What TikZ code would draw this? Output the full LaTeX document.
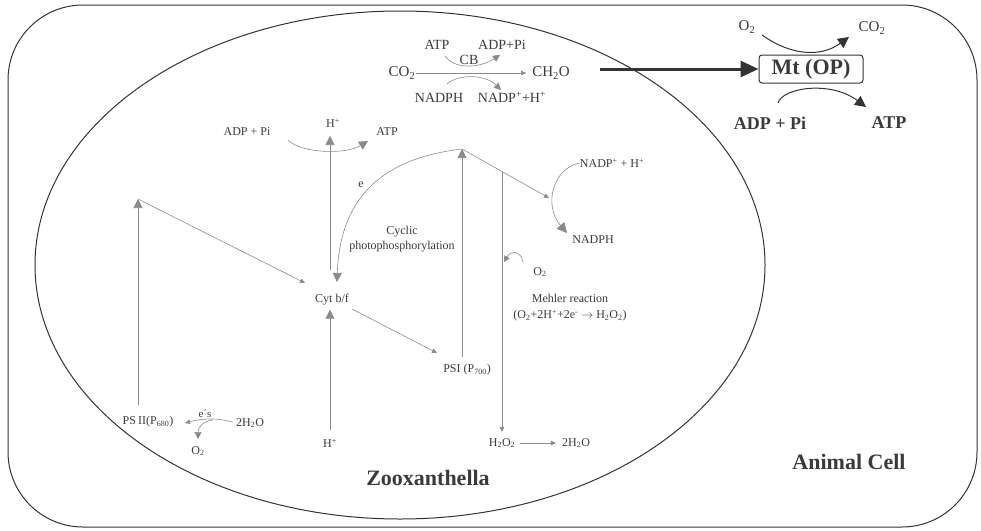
\documentclass[tikz,border=0pt]{standalone}
\usepackage{fontspec}
\setmainfont{Liberation Serif}
\usetikzlibrary{arrows.meta}
\definecolor{ink}{HTML}{333333}
\definecolor{lgray}{HTML}{8A8A8A}
\definecolor{txt}{HTML}{3A3A3A}
\begin{document}
\begin{tikzpicture}[x=1pt,y=-1pt,
  lbl/.style={text=txt, inner sep=0pt, font=\fontsize{12}{15}\selectfont},
  lblm/.style={text=txt, inner sep=0pt, font=\fontsize{14}{16}\selectfont},
  lblr/.style={text=txt, inner sep=0pt, font=\fontsize{15}{17}\selectfont},
  lblb/.style={text=txt, inner sep=0pt, font=\fontsize{18}{20}\selectfont\bfseries},
  title/.style={text=txt, inner sep=0pt, font=\fontsize{22}{24}\selectfont\bfseries},
  thinln/.style={draw=lgray, line width=0.6pt},
  darkln/.style={draw=ink, line width=1pt},
  bigtip/.style={-{Triangle[length=9pt,width=9pt]}},
  midtip/.style={-{Triangle[length=7pt,width=7pt]}},
  smalltip/.style={-{Triangle[length=5pt,width=4.5pt]}},
  mtbox/.style={draw=ink, line width=1pt, rounded corners=3pt, minimum width=104pt,
    minimum height=28pt, inner sep=0pt, text=txt, font=\fontsize{22}{24}\selectfont\bfseries},
]
\useasboundingbox (0,0) rectangle (981,530);
% cells
\draw[darkln, rounded corners=75pt] (8,5) rectangle (977,527);
\draw[darkln] (400,265) ellipse [x radius=365pt, y radius=254pt];

% Calvin-Benson reaction
\node[lblm] (atpCB) at (437,45) {ATP};
\node[lblm] (adpCB) at (502,45) {ADP+Pi};
\node[lblm] (cb) at (469,60) {CB};
\node[lblr] (co2) at (402,73) {CO\textsubscript{2}};
\node[lblr] (ch2o) at (551,73) {CH\textsubscript{2}O};
\node[lblm] (nadphCB) at (439,98) {NADPH};
\node[lblm] (nadpCB) at (512,97) {NADP\textsuperscript{+}+H\textsuperscript{+}};
\draw[thinln, smalltip, shorten >=6pt] (co2.east) -- (ch2o.west);
\coordinate (cbA1) at (445,56);
\coordinate (cbA2) at (500,55);
\draw[thinln, midtip] (cbA1) .. controls (455,70) and (480,68) .. (cbA2);
\coordinate (cbB1) at (447,84);
\coordinate (cbB2) at (501,90);
\draw[thinln, midtip] (cbB1) .. controls (458,74) and (485,74) .. (cbB2);

% mitochondrion
\node[mtbox] (mt) at (811,69) {Mt (OP)};
\node[lblr] (o2R) at (747,27) {O\textsubscript{2}};
\node[lblr] (co2R) at (872,28) {CO\textsubscript{2}};
\node[lblb] (adpR) at (770,123) {ADP + Pi};
\node[lblb] (atpR) at (889,123) {ATP};
\coordinate (thickStart) at (600,69);
\draw[ink, line width=3pt, -{Triangle[length=18pt,width=16pt]}] (thickStart) -- (mt.west);
\coordinate (rA1) at (762,35);
\coordinate (rA2) at (849,37);
\draw[darkln, -{Triangle[length=11pt,width=11pt]}] (rA1) .. controls (790,55) and (820,58) .. (rA2);
\coordinate (rB1) at (778,103);
\coordinate (rB2) at (866,107);
\draw[darkln, -{Triangle[length=11pt,width=11pt]}] (rB1) .. controls (782,88) and (830,80) .. (rB2);

% photophosphorylation at top
\node[lbl] (adpL) at (247,132) {ADP + Pi};
\node[lbl] (hTop) at (333,123) {H\textsuperscript{+}};
\node[lbl] (atpL) at (387,132) {ATP};
\coordinate (atpC1) at (288,140);
\coordinate (atpC2) at (368,141);
\draw[thinln, bigtip] (atpC1) .. controls (300,153) and (345,155) .. (atpC2);
\coordinate (hLineBot) at (330,270);
\coordinate (hTip) at (330,136);
\draw[thinln, bigtip] (hLineBot) -- (hTip);

% main chain
\node[lbl] (cyt) at (332,300) {Cyt b/f};
\node[lbl] (psii) at (148,422) {PS\,II(P\textsubscript{680})};
\node[lbl] (psi) at (467,370) {PSI (P\textsubscript{700})};
\node[lbl] (hBot) at (330,443) {H\textsuperscript{+}};
\coordinate (psiiTop) at (138,199);
\coordinate (psiiBot) at (138,405);
\draw[thinln, bigtip] (psiiBot) -- (psiiTop);
\coordinate (cytIn) at (305,283);
\draw[thinln, smalltip] (psiiTop) -- (cytIn);
\draw[thinln, bigtip, shorten <=8pt, shorten >=4pt] (hBot.north) -- (hBot.north |- cyt.south);
\coordinate (cytOut) at (352,309);
\coordinate (psiIn) at (437,353);
\draw[thinln, smalltip] (cytOut) -- (psiIn);
\coordinate (psiTop) at (462,149);
\coordinate (psiVBot) at (462,357);
\draw[thinln, bigtip] (psiVBot) -- (psiTop);
\coordinate (eTip) at (337,282);
\draw[thinln, bigtip] (psiTop) .. controls (385,158) and (340,195) .. (eTip);
\node[lbl] (eLab) at (361,185) {e};
\node[lbl, align=center] (cyclic) at (402,239) {Cyclic\\photophosphorylation};

% NADP reduction
\coordinate (nadpIn) at (549,198);
\draw[thinln, smalltip] (psiTop) -- (nadpIn);
\node[lbl] (nadpM) at (612,163) {NADP\textsuperscript{+} + H\textsuperscript{+}};
\node[lbl] (nadphM) at (593,240) {NADPH};
\coordinate (nadphTip) at (567,233);
\draw[thinln, -{Triangle[length=10pt,width=10pt]}] (nadpM.west) .. controls (553,168) and (543,205) .. (nadphTip);

% Mehler reaction
\node[lbl] (h2o2) at (502,443) {H\textsubscript{2}O\textsubscript{2}};
\node[lbl] (h2oB) at (576,443) {2H\textsubscript{2}O};
\coordinate (mehTop) at (502,172);
\draw[thinln, smalltip, shorten >=6pt] (mehTop) -- (h2o2.north);
\draw[thinln, smalltip, shorten <=5pt, shorten >=6pt] (h2o2.east) -- (h2oB.west);
\node[lbl] (o2M) at (540,272) {O\textsubscript{2}};
\coordinate (o2hA) at (523,262);
\coordinate (o2hB) at (504,262);
\draw[thinln, -{Triangle[length=6pt,width=6pt]}] (o2hA) .. controls (521,251) and (511,250) .. (o2hB);
\node[lbl, align=center] (mehler) at (570,308) {Mehler reaction\\[1pt](O\textsubscript{2}+2H\textsuperscript{+}+2e\textsuperscript{-} $\rightarrow$ H\textsubscript{2}O\textsubscript{2})};

% water splitting
\node[lbl] (h2oL) at (250,423) {2H\textsubscript{2}O};
\node[lbl, font=\fontsize{11}{13}\selectfont] (es) at (205,414) {e´s};
\node[lbl] (o2L) at (198,451) {O\textsubscript{2}};
\coordinate (esTip) at (185,423);
\draw[thinln, smalltip, shorten <=3pt] (h2oL.west) .. controls (215,417) and (200,419) .. (esTip);
\coordinate (esBr) at (213,420);
\coordinate (o2Tip) at (198,439);
\draw[thinln, midtip] (esBr) .. controls (203,421) and (198,427) .. (o2Tip);

% titles
\node[title] (zoox) at (428,478) {Zooxanthella};
\node[title] (animal) at (849,462) {Animal Cell};
\end{tikzpicture}
\end{document}
